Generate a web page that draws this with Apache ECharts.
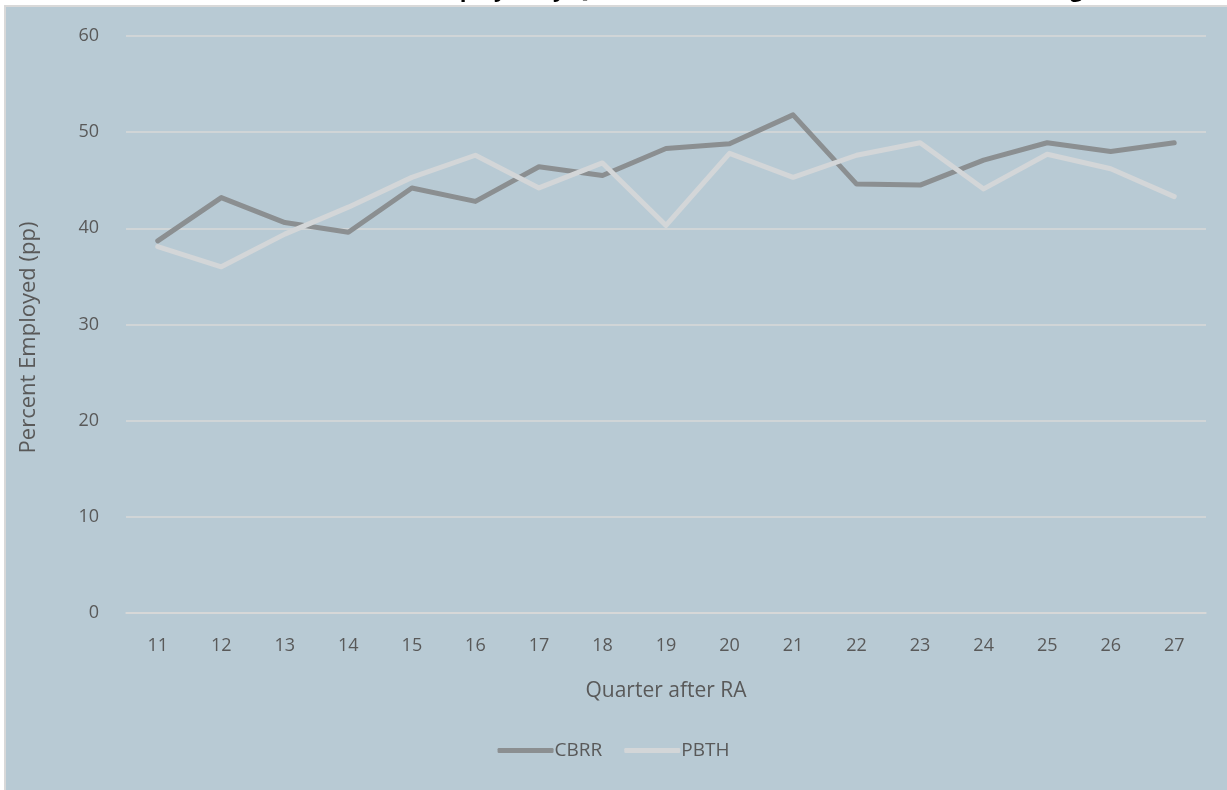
<!DOCTYPE html>
<html>
<head>
<meta charset="utf-8">
<script src="https://cdn.jsdelivr.net/npm/echarts@6/dist/echarts.min.js"></script>
<style>
  html, body { margin: 0; padding: 0; background: #ffffff; }
  #chart { width: 1227px; height: 790px; }
</style>
</head>
<body>
<div id="chart"></div>
<script>
// Quarters after RA (category labels)
const quarters = ['11', '12', '13', '14', '15', '16', '17', '18', '19', '20', '21', '22', '23', '24', '25', '26', '27'];

// Percent employed
const cbrr = [38.7, 43.2, 40.6, 39.6, 44.2, 42.8, 46.4, 45.5, 48.3, 48.8, 51.8, 44.6, 44.5, 47.1, 48.9, 48.0, 48.9];
const pbth = [38.1, 36.0, 39.4, 42.2, 45.3, 47.6, 44.2, 46.8, 40.3, 47.8, 45.3, 47.6, 48.9, 44.1, 47.7, 46.2, 43.3];

const seriesNames = ['CBRR', 'PBTH'];
const titleText = 'Percent Employed by Quarter after RA: CBRR and PBTH, Full Housing';

const textColor = '#595959';
const fontFamily = '"Open Sans", Calibri, sans-serif';

const chart = echarts.init(document.getElementById('chart'), null, { renderer: 'canvas' });

chart.setOption({
  backgroundColor: '#ffffff',
  animation: false,
  graphic: [
    {
      type: 'rect',
      z: -10,
      silent: true,
      shape: { x: 5, y: 6, width: 1224, height: 786 },
      style: { fill: '#b8cad4', stroke: '#d9d9d9', lineWidth: 2 }
    }
  ],
  title: {
    text: titleText,
    left: 330,
    top: -25,
    textStyle: { fontFamily: fontFamily, fontSize: 22, fontWeight: 'bold', color: '#000000' }
  },
  legend: {
    data: seriesNames,
    bottom: 25,
    left: 'center',
    itemWidth: 56,
    itemHeight: 5,
    itemGap: 22,
    icon: 'roundRect',
    textStyle: { color: textColor, fontFamily: fontFamily, fontSize: 19, padding: [0, 0, 0, -4] }
  },
  grid: { left: 126, right: 21, top: 36, bottom: 177 },
  xAxis: {
    type: 'category',
    data: quarters,
    boundaryGap: true,
    name: 'Quarter after RA',
    nameLocation: 'middle',
    nameGap: 68,
    nameTextStyle: { color: textColor, fontFamily: fontFamily, fontSize: 21 },
    axisLine: { show: true, lineStyle: { color: '#d9d9d9', width: 1.5 } },
    axisTick: { show: false },
    axisLabel: { color: textColor, fontFamily: fontFamily, fontSize: 18, margin: 24 }
  },
  yAxis: {
    type: 'value',
    min: 0,
    max: 60,
    interval: 10,
    name: 'Percent Employed (pp)',
    nameLocation: 'middle',
    nameGap: 86,
    nameTextStyle: { color: textColor, fontFamily: fontFamily, fontSize: 22, padding: [0, 26, 0, 0] },
    axisLine: { show: false },
    axisTick: { show: false },
    axisLabel: { color: textColor, fontFamily: fontFamily, fontSize: 18, margin: 27 },
    splitLine: { lineStyle: { color: '#d9d9d9', width: 1.5 } }
  },
  series: [
    {
      name: seriesNames[0],
      type: 'line',
      data: cbrr,
      symbol: 'none',
      color: '#8b8f91',
      lineStyle: { width: 5, color: '#8b8f91', cap: 'round', join: 'round' }
    },
    {
      name: seriesNames[1],
      type: 'line',
      data: pbth,
      symbol: 'none',
      color: '#d3d6d8',
      lineStyle: { width: 5, color: '#d3d6d8', cap: 'round', join: 'round' }
    }
  ]
});
</script>
</body>
</html>
